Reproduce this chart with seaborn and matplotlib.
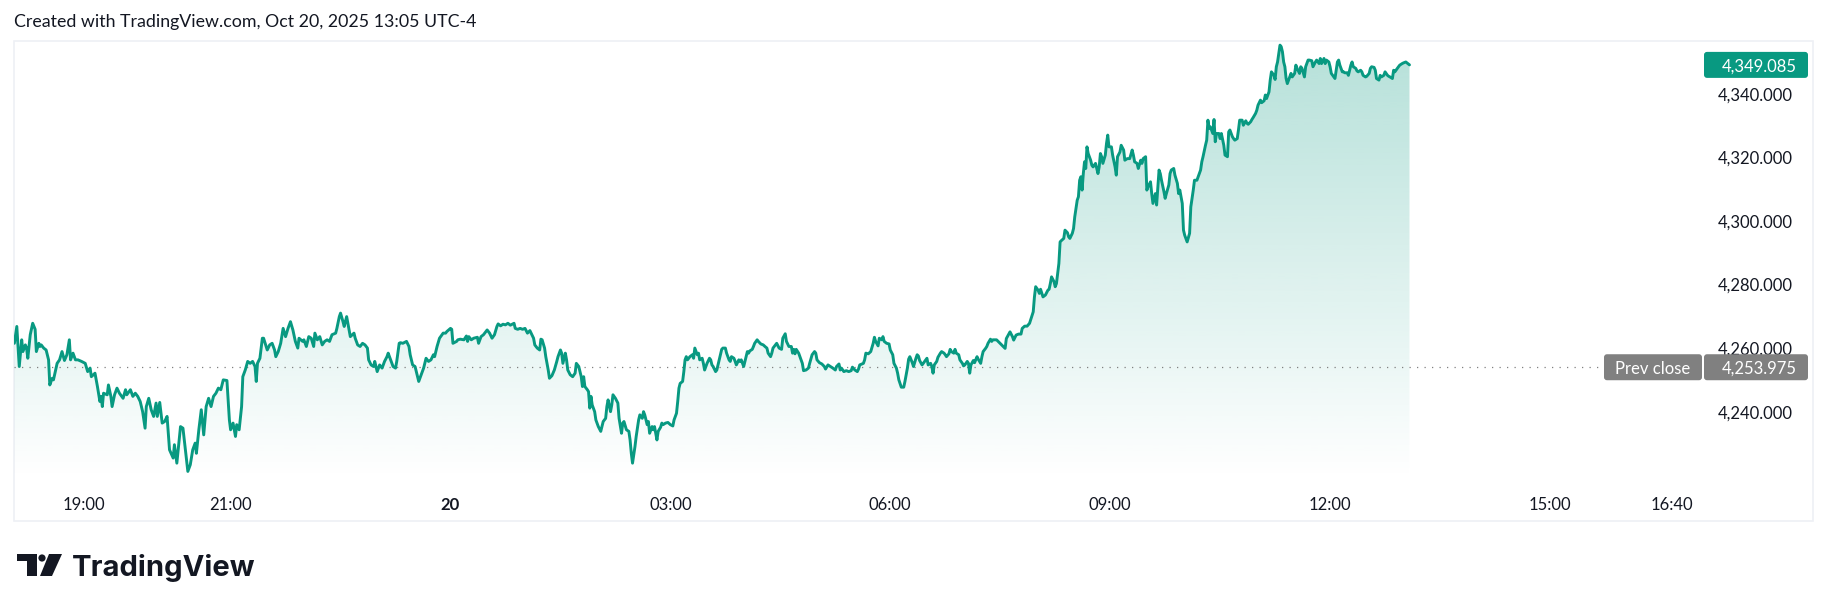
import numpy as np
import pandas as pd
import matplotlib
matplotlib.use("Agg")
import matplotlib.pyplot as plt
import seaborn as sns
from matplotlib.patches import FancyBboxPatch, Rectangle, Circle, Polygon
from matplotlib.transforms import IdentityTransform


# ============================================================
# DATA  (minutes after 18:00 Oct 19, price)
# ============================================================

evening_min = [3, 5, 7, 9, 10, 12, 13, 14, 16, 18, 20, 21, 23, 24, 25, 27, 29, 31, 32, 34,
               35, 38, 40, 42, 44, 46, 48, 49, 51, 53, 55, 58, 61, 63, 65, 66, 69, 71, 73, 74,
               75, 76, 79, 80, 82, 83, 85, 87, 89, 92, 94, 95, 98, 100, 102, 104, 106, 108, 110, 111,
               113, 115, 117, 119, 120, 122, 124, 126, 128, 130, 133, 134, 136, 139, 141, 143, 145, 147, 149, 151,
               152, 154, 156, 158, 160, 162, 164, 166, 168, 170, 172, 174, 177, 179, 180, 182, 184, 185, 187, 189,
               190, 192, 194, 196, 198, 200, 201, 202, 204, 206, 207, 210, 212, 214, 216, 217, 219, 221, 223, 225,
               227, 229, 231, 233, 235, 236, 239, 240, 242, 244, 246, 248, 249, 251, 253, 255, 257, 259, 261, 263,
               266, 267, 269, 270, 272, 273, 275, 276, 278, 281, 282, 284, 286, 288, 290, 292, 293, 295, 297, 298,
               300, 302, 304, 306, 308, 309, 311, 313, 315, 316, 318]
evening_px = [4261.5, 4266.8, 4254.2, 4262.6, 4258.9, 4261.0, 4260.0, 4256.8, 4264.2, 4267.8,
              4265.9, 4258.9, 4261.5, 4260.5, 4261.0, 4260.0, 4259.4, 4256.3, 4248.4, 4250.5,
              4250.0, 4255.2, 4256.3, 4258.9, 4256.1, 4257.9, 4262.6, 4256.3, 4258.4, 4256.3,
              4256.3, 4255.8, 4255.2, 4252.6, 4253.7, 4251.0, 4252.1, 4247.9, 4243.2, 4244.8,
              4241.6, 4245.8, 4245.3, 4248.4, 4244.8, 4241.6, 4245.3, 4247.4, 4245.8, 4244.2,
              4246.9, 4245.3, 4246.9, 4244.8, 4245.8, 4244.8, 4243.2, 4240.0, 4234.8, 4241.6,
              4244.2, 4240.6, 4238.5, 4242.7, 4238.5, 4242.9, 4236.4, 4236.9, 4238.5, 4228.0,
              4225.4, 4229.6, 4223.8, 4235.3, 4234.8, 4228.0, 4221.2, 4223.3, 4228.0, 4230.1,
              4226.9, 4234.3, 4240.6, 4232.7, 4241.6, 4244.2, 4241.6, 4244.8, 4245.8, 4247.4,
              4246.9, 4250.0, 4249.8, 4237.4, 4234.3, 4236.4, 4232.2, 4235.9, 4234.3, 4241.6,
              4251.0, 4253.1, 4255.8, 4255.2, 4255.8, 4254.2, 4249.5, 4255.2, 4256.8, 4263.1,
              4263.1, 4259.4, 4261.0, 4261.5, 4259.4, 4257.3, 4258.9, 4261.5, 4266.2, 4263.6,
              4266.2, 4268.3, 4265.7, 4262.1, 4260.0, 4263.1, 4262.1, 4262.6, 4260.5, 4263.6,
              4263.1, 4260.5, 4264.7, 4262.6, 4263.6, 4261.0, 4262.1, 4262.6, 4262.1, 4264.2,
              4264.7, 4266.2, 4269.9, 4271.0, 4268.3, 4266.8, 4269.9, 4267.8, 4263.6, 4264.7,
              4263.1, 4261.0, 4260.5, 4261.5, 4261.0, 4260.0, 4256.3, 4254.7, 4254.2, 4255.8,
              4252.6, 4254.7, 4253.7, 4255.8, 4257.3, 4258.4, 4256.3, 4254.2, 4253.7, 4255.8,
              4261.5]

overnight_min = [319, 321, 324, 326, 327, 329, 331, 332, 334, 336, 338, 340, 342, 344, 346, 347, 349, 351, 354, 356,
                 357, 360, 361, 362, 365, 366, 368, 371, 373, 374, 375, 377, 379, 382, 383, 385, 387, 388, 390, 392,
                 394, 396, 398, 399, 401, 403, 405, 407, 409, 412, 413, 415, 417, 419, 421, 423, 425, 426, 428, 429,
                 431, 433, 434, 435, 437, 438, 440, 441, 443, 445, 447, 448, 450, 451, 452, 454, 455, 456, 458, 460,
                 462, 463, 465, 466, 467, 468, 469, 470, 472, 473, 474, 475, 476, 478, 479, 481, 483, 485, 487, 488,
                 489, 491, 492, 493, 495, 497, 498, 500, 501, 502, 504, 506, 507, 508, 509, 511, 512, 514, 515, 517,
                 518, 519, 521, 522, 523, 525, 526, 527, 529, 530, 532, 533, 534, 536, 538, 540, 542, 543, 545, 546,
                 547, 548, 550, 551, 552, 553, 554, 556, 558, 559, 560, 562, 563, 564, 566, 567, 568, 570, 572, 573,
                 574, 575, 577, 578, 579, 581, 582, 583, 585, 586, 588, 589, 590, 592, 593, 594, 596, 597, 598, 600,
                 601, 603, 604, 605, 607, 608, 609, 611, 612, 614, 616, 618, 619, 620, 622, 623, 624, 626, 627, 629]
overnight_px = [4261.7, 4261.5, 4262.1, 4260.5, 4257.9, 4254.7, 4254.2, 4252.6, 4249.5, 4251.6,
                4253.7, 4256.8, 4255.8, 4256.3, 4257.9, 4257.3, 4260.5, 4263.1, 4264.7, 4264.7,
                4265.2, 4266.2, 4265.9, 4261.5, 4262.1, 4262.6, 4262.8, 4262.6, 4263.8, 4262.1,
                4263.6, 4262.6, 4263.1, 4263.4, 4261.5, 4263.6, 4264.2, 4264.7, 4265.7, 4264.7,
                4263.1, 4264.2, 4266.8, 4267.6, 4267.0, 4267.5, 4267.3, 4267.8, 4267.2, 4267.8,
                4266.2, 4265.9, 4266.2, 4265.9, 4266.2, 4264.7, 4265.5, 4264.7, 4263.1, 4261.0,
                4260.0, 4259.4, 4262.8, 4262.6, 4260.0, 4257.3, 4253.1, 4250.5, 4251.3, 4253.1,
                4255.8, 4257.3, 4259.4, 4258.4, 4255.2, 4258.4, 4256.3, 4253.1, 4251.6, 4251.0,
                4252.1, 4255.2, 4254.2, 4252.6, 4251.0, 4247.9, 4251.0, 4247.9, 4246.9, 4246.3,
                4241.1, 4244.8, 4242.1, 4240.0, 4237.4, 4235.3, 4233.8, 4236.9, 4237.9, 4241.6,
                4243.7, 4240.0, 4242.1, 4245.3, 4244.2, 4242.7, 4237.9, 4233.2, 4236.4, 4236.9,
                4234.3, 4233.8, 4231.1, 4226.9, 4223.8, 4229.0, 4232.2, 4237.4, 4239.0, 4237.9,
                4240.0, 4239.0, 4235.9, 4236.9, 4233.2, 4235.3, 4234.3, 4235.3, 4231.1, 4233.8,
                4235.1, 4236.4, 4235.9, 4236.4, 4236.6, 4235.9, 4235.5, 4237.4, 4239.5, 4243.2,
                4247.4, 4248.9, 4249.5, 4252.6, 4256.3, 4257.3, 4256.3, 4257.3, 4257.9, 4256.8,
                4260.0, 4257.9, 4258.4, 4256.3, 4256.8, 4255.2, 4253.1, 4255.2, 4256.8, 4256.3,
                4254.7, 4254.2, 4252.6, 4253.1, 4254.7, 4257.9, 4259.6, 4260.0, 4260.0, 4258.4,
                4256.3, 4255.8, 4257.3, 4256.8, 4255.8, 4254.7, 4256.3, 4255.8, 4256.3, 4254.2,
                4255.8, 4258.9, 4258.4, 4259.1, 4259.6, 4260.5, 4261.5, 4262.6, 4262.1, 4261.3,
                4261.0, 4260.3, 4260.0, 4258.4, 4257.3, 4258.4, 4260.0, 4261.0, 4261.5, 4260.0]

morning_min = [631, 632, 634, 635, 637, 639, 640, 641, 642, 643, 645, 646, 648, 649, 651, 653, 654, 656, 658, 659,
               660, 662, 664, 666, 667, 669, 671, 673, 675, 676, 678, 679, 680, 682, 684, 686, 688, 689, 691, 693,
               694, 695, 698, 699, 700, 702, 704, 706, 707, 708, 710, 711, 713, 714, 715, 717, 719, 720, 722, 723,
               725, 726, 727, 729, 731, 732, 734, 735, 736, 738, 739, 741, 742, 743, 744, 746, 747, 749, 750, 751,
               753, 754, 755, 756, 758, 759, 761, 762, 764, 765, 766, 768, 769, 770, 772, 773, 774, 776, 777, 779,
               780, 781, 783, 784, 785, 786, 788, 789, 791, 792, 794, 795, 796, 798, 799, 800, 802, 803, 804, 807]
morning_px = [4259.6, 4263.1, 4264.5, 4262.1, 4260.5, 4260.5, 4258.4, 4259.6, 4258.2, 4259.6,
              4258.4, 4257.3, 4255.2, 4252.9, 4253.1, 4253.7, 4255.2, 4257.9, 4258.9, 4258.4,
              4256.3, 4255.4, 4255.0, 4254.2, 4253.4, 4254.7, 4254.2, 4253.7, 4253.1, 4254.2,
              4255.0, 4253.1, 4253.7, 4252.6, 4252.9, 4252.6, 4252.9, 4254.0, 4253.1, 4252.6,
              4253.4, 4254.7, 4255.2, 4256.3, 4258.4, 4258.2, 4258.9, 4261.5, 4263.4, 4262.1,
              4260.7, 4263.1, 4262.6, 4263.6, 4262.1, 4261.5, 4261.3, 4259.4, 4257.9, 4255.2,
              4253.7, 4252.1, 4250.0, 4247.7, 4247.7, 4249.5, 4253.7, 4256.5, 4257.3, 4255.4,
              4254.2, 4256.8, 4257.9, 4257.5, 4256.1, 4254.7, 4255.2, 4256.3, 4256.8, 4254.7,
              4255.2, 4254.2, 4252.1, 4254.7, 4255.8, 4257.1, 4258.4, 4258.9, 4258.4, 4257.9,
              4257.3, 4258.2, 4259.6, 4258.9, 4258.4, 4259.6, 4258.4, 4257.9, 4256.3, 4255.2,
              4254.4, 4254.7, 4255.8, 4255.2, 4252.1, 4254.7, 4256.1, 4255.4, 4257.3, 4256.5,
              4255.2, 4257.3, 4258.9, 4259.9, 4260.5, 4261.5, 4262.8, 4262.1, 4262.6, 4262.6]

rally_min = [814, 815, 818, 820, 821, 823, 825, 827, 828, 830, 832, 834, 837, 838, 839, 841, 842, 843, 845, 847,
             849, 850, 851, 852, 854, 855, 856, 858, 859, 860, 862, 863, 865, 866, 867, 869, 870, 871, 873, 874,
             875, 876, 877, 878, 879, 880, 881, 882, 884, 885, 886, 888, 890, 891, 892, 893, 894, 896, 897, 898,
             899, 901, 902, 904, 905, 906, 908, 909, 911, 912, 914, 916, 918, 919, 920, 922, 923, 925, 926, 927,
             929, 930, 931, 933, 934, 935, 937, 938, 940, 941, 942, 944, 945, 946, 948, 949, 950, 952, 953, 955,
             956, 957, 959, 960, 961, 963, 965, 966, 968, 969, 971, 972, 974, 975, 976, 978, 979, 980, 981, 982,
             984, 985, 986, 987, 989, 990, 991, 993, 994, 996, 997, 998, 1000, 1001, 1002, 1004, 1005, 1006, 1008, 1009,
             1011, 1012, 1013, 1015, 1016, 1017, 1019, 1020, 1021, 1023, 1024, 1026, 1027, 1028, 1030, 1031, 1032, 1034, 1035, 1036,
             1037, 1038, 1039, 1040, 1041, 1042, 1043, 1044, 1045, 1047, 1048, 1049, 1051, 1052, 1053, 1055, 1056, 1057, 1059, 1060,
             1062, 1063, 1065, 1066, 1068, 1069, 1071, 1072, 1073, 1075, 1076, 1077, 1079, 1080, 1081, 1083, 1084, 1086, 1087, 1088,
             1090, 1091, 1092, 1094, 1095, 1097, 1098, 1099, 1101, 1102, 1103, 1105, 1106, 1107, 1109, 1110, 1112, 1113, 1114, 1116,
             1117, 1118, 1120, 1121, 1122, 1124, 1125, 1127, 1128, 1129, 1131, 1132, 1133, 1135, 1136, 1137, 1139, 1140, 1142, 1143,
             1145]
rally_px = [4259.9, 4263.0, 4265.1, 4263.6, 4262.5, 4264.1, 4264.4, 4264.4, 4266.2, 4266.9,
            4266.9, 4267.8, 4271.4, 4276.1, 4279.3, 4278.2, 4277.2, 4278.5, 4276.1, 4276.7,
            4278.2, 4278.5, 4280.3, 4282.4, 4280.9, 4279.3, 4280.3, 4286.6, 4293.4, 4293.8,
            4294.5, 4297.1, 4296.3, 4295.0, 4294.5, 4296.1, 4297.6, 4301.3, 4306.5, 4307.6,
            4312.8, 4313.9, 4309.7, 4314.9, 4318.6, 4316.5, 4323.3, 4321.2, 4319.1, 4317.5,
            4317.0, 4318.1, 4314.9, 4317.0, 4321.2, 4320.2, 4318.1, 4320.7, 4324.4, 4327.0,
            4323.3, 4323.3, 4320.7, 4317.0, 4314.4, 4320.2, 4321.7, 4323.8, 4322.3, 4319.1,
            4319.6, 4319.6, 4322.3, 4320.7, 4318.6, 4318.1, 4316.5, 4319.1, 4318.1, 4319.6,
            4320.2, 4309.7, 4310.7, 4312.3, 4308.6, 4305.5, 4308.6, 4305.0, 4316.0, 4314.9,
            4312.8, 4309.2, 4307.1, 4308.6, 4311.3, 4314.9, 4316.0, 4316.5, 4314.4, 4311.8,
            4308.6, 4309.7, 4305.5, 4297.1, 4295.5, 4293.4, 4296.1, 4304.4, 4309.7, 4312.8,
            4312.8, 4313.9, 4316.0, 4318.6, 4320.2, 4323.8, 4325.4, 4331.7, 4329.1, 4329.6,
            4327.5, 4331.9, 4324.9, 4327.5, 4327.5, 4325.9, 4327.5, 4323.8, 4320.7, 4320.2,
            4328.0, 4328.6, 4326.5, 4325.9, 4325.4, 4325.9, 4328.6, 4331.7, 4331.7, 4330.1,
            4331.5, 4330.7, 4330.4, 4331.2, 4331.9, 4332.5, 4333.8, 4334.8, 4336.4, 4338.0,
            4337.2, 4337.8, 4339.6, 4338.5, 4340.6, 4344.3, 4346.9, 4345.8, 4344.5, 4348.5,
            4350.0, 4352.7, 4355.3, 4354.8, 4353.2, 4350.0, 4348.5, 4344.8, 4343.2, 4345.3,
            4346.4, 4345.3, 4346.4, 4349.0, 4348.0, 4346.4, 4348.5, 4348.0, 4345.3, 4348.5,
            4350.6, 4350.6, 4350.4, 4348.5, 4350.0, 4350.6, 4349.5, 4351.1, 4349.5, 4351.1,
            4349.5, 4350.6, 4350.0, 4348.5, 4346.4, 4345.3, 4344.8, 4350.0, 4350.6, 4349.0,
            4346.9, 4346.9, 4346.6, 4346.6, 4345.8, 4349.0, 4350.0, 4348.5, 4348.0, 4347.2,
            4346.9, 4347.4, 4346.9, 4345.8, 4345.3, 4345.5, 4346.4, 4348.0, 4348.5, 4348.3,
            4347.4, 4344.8, 4344.3, 4345.8, 4345.3, 4345.8, 4346.9, 4345.8, 4345.5, 4345.3,
            4344.8, 4347.4, 4346.9, 4348.0, 4348.5, 4349.0, 4349.5, 4349.7, 4350.0, 4349.7,
            4349.085]

PREV_CLOSE = 4253.975
LAST_PRICE = 4349.085

tick_minutes = [60, 180, 360, 540, 720, 900, 1080, 1260, 1360]
tick_labels  = ["19:00", "21:00", "20", "03:00", "06:00", "09:00", "12:00", "15:00", "16:40"]
price_ticks  = [4240, 4260, 4280, 4300, 4320, 4340]

df = pd.DataFrame({
    "minute": evening_min + overnight_min + morning_min + rally_min,
    "price":  evening_px + overnight_px + morning_px + rally_px,
})


# ============================================================
# STYLE / LAYOUT  (pixels of a 1830x611 canvas)
# ============================================================

W, H = 1830, 611
GREEN = "#089981"
TEXT = "#131722"
GREY_TAG = "#808080"
PANE_L, PANE_T, PANE_R, PANE_B = 14, 41, 1700, 480
XLIM = (2.7, 1382.8)
YLIM = (4218.5, 4356.6)
LABEL_SIZE = 12

sns.set_theme(style="white")
plt.rcParams["font.family"] = ["Lato", "DejaVu Sans"]

fig = plt.figure(figsize=(W / 100, H / 100), dpi=100)
fig.patch.set_facecolor("white")
ax = fig.add_axes([PANE_L / W, 1 - PANE_B / H, (PANE_R - PANE_L) / W, (PANE_B - PANE_T) / H])
ax.set_facecolor("none")

# gradient area under the line
grad = np.zeros((256, 1, 4))
grad[..., :3] = matplotlib.colors.to_rgb(GREEN)
grad[:, 0, 3] = np.linspace(0.30, 0.0, 256)
im = ax.imshow(grad, extent=[XLIM[0], XLIM[1], YLIM[0], YLIM[1]], origin="upper",
               aspect="auto", interpolation="bilinear", zorder=1)
area = ax.fill_between(df["minute"], df["price"], YLIM[0], color="none", lw=0)
im.set_clip_path(area.get_paths()[0], transform=ax.transData)

sns.lineplot(data=df, x="minute", y="price", color=GREEN, linewidth=2.1,
             estimator=None, sort=False, ax=ax, zorder=3)

ax.axhline(PREV_CLOSE, xmin=0, xmax=(1604 - PANE_L) / (PANE_R - PANE_L),
           color="#808080", linestyle=(0, (1, 5)), linewidth=0.9, zorder=2)

ax.set_xlim(*XLIM)
ax.set_ylim(*YLIM)
for s in ax.spines.values():
    s.set_visible(False)
ax.grid(False)
ax.set_xlabel("")
ax.set_ylabel("")

ax.set_xticks(tick_minutes)
ax.set_xticklabels(tick_labels)
ax.tick_params(axis="x", length=0, pad=12, labelsize=LABEL_SIZE, labelcolor=TEXT)
for lab in ax.get_xticklabels():
    if lab.get_text() == "20":
        lab.set_fontweight("bold")

ax.yaxis.tick_right()
ax.set_yticks(price_ticks)
ax.set_yticklabels([f"{v:,.3f}" for v in price_ticks])
ax.tick_params(axis="y", length=0, pad=13, labelsize=LABEL_SIZE, labelcolor=TEXT)

# outer frame
fig.add_artist(Rectangle((14, H - 521), 1799, 480, transform=IdentityTransform(),
                         fill=False, edgecolor="#eef0f5", linewidth=1.2, zorder=0))

# price tags
fig.canvas.draw()
def tag(x0, x1, price, color, text, ha="right", tx=1797):
    yc = ax.transData.transform((XLIM[0], price))[1]
    fig.add_artist(FancyBboxPatch((x0, yc - 13), x1 - x0, 26, boxstyle="round,pad=0,rounding_size=3",
                                  transform=IdentityTransform(), facecolor=color,
                                  edgecolor="none", zorder=5))
    fig.text(tx, yc, text, transform=IdentityTransform(), ha=ha, va="center_baseline",
             color="white", fontsize=LABEL_SIZE, zorder=6)

tag(1704, 1808, LAST_PRICE, GREEN, f"{LAST_PRICE:,.3f}")
tag(1604, 1702, PREV_CLOSE, GREY_TAG, "Prev close", ha="center", tx=1653)
tag(1704, 1808, PREV_CLOSE, GREY_TAG, f"{PREV_CLOSE:,.3f}")

# header
fig.text(14 / W, 1 - 22 / H, "Created with TradingView.com, Oct 20, 2025 13:05 UTC-4",
         ha="left", va="center", fontsize=12.8, color=TEXT)

# logo
logo_kw = dict(transform=IdentityTransform(), facecolor="#131722", edgecolor="none")
fig.add_artist(Rectangle((17, H - 561), 20, 7, **logo_kw))
fig.add_artist(Rectangle((27, H - 576), 10, 22, **logo_kw))
fig.add_artist(Circle((42, H - 558), 3.6, **logo_kw))
fig.add_artist(Polygon([(49, H - 554), (62, H - 554), (52, H - 576), (40, H - 576)], **logo_kw))
fig.text(72, H - 576, "TradingView", transform=IdentityTransform(), ha="left", va="baseline",
         fontsize=21, fontweight="bold", color="#131722", family=["Inter", "DejaVu Sans"])

fig.savefig("out.png", dpi=100, facecolor="white")
